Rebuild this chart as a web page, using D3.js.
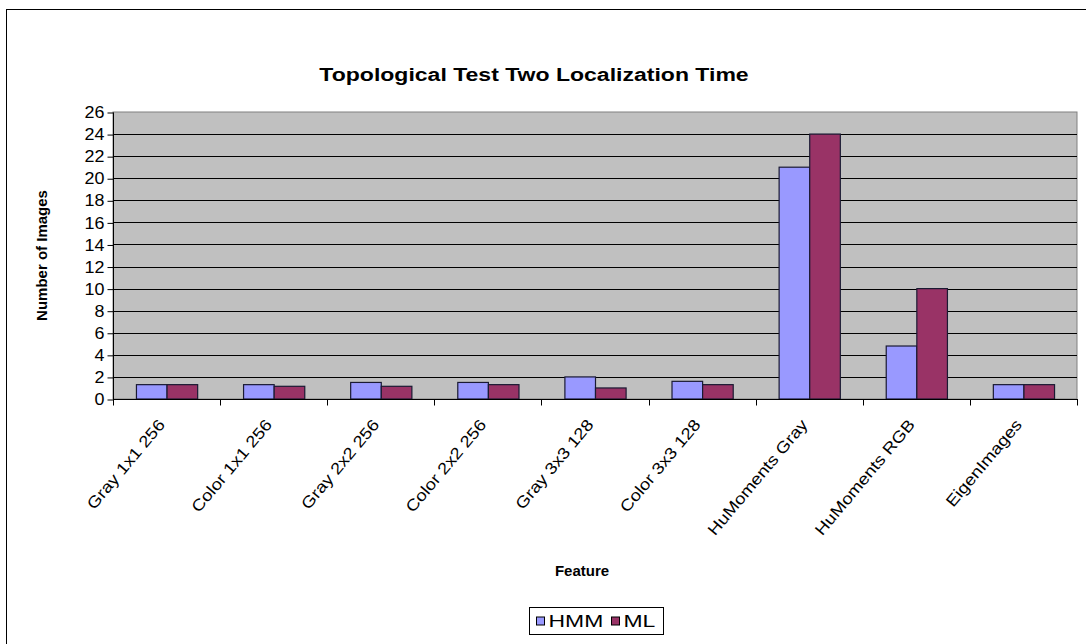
<!DOCTYPE html>
<html>
<head>
<meta charset="utf-8">
<script src="https://cdn.jsdelivr.net/npm/d3@7"></script>
<style>
  html, body { margin: 0; padding: 0; background: #fff; }
  svg { display: block; font-family: "Liberation Sans", Arial, sans-serif; }
</style>
</head>
<body>
<svg id="chart" width="1086" height="644"></svg>
<script>
// Features compared and the number of images each method needed
const categories = [
  "Gray 1x1 256", "Color 1x1 256", "Gray 2x2 256", "Color 2x2 256",
  "Gray 3x3 128", "Color 3x3 128", "HuMoments Gray", "HuMoments RGB", "EigenImages"
];
const seriesNames = ["HMM", "ML"];
const hmmValues = [1.3, 1.3, 1.5, 1.5, 2.0, 1.6, 21, 4.8, 1.3];
const mlValues  = [1.3, 1.15, 1.15, 1.3, 1.0, 1.3, 24, 10, 1.3];
const yTicks = [0, 2, 4, 6, 8, 10, 12, 14, 16, 18, 20, 22, 24, 26];
const colors = { HMM: "#9999ff", ML: "#993366" };

const rows = categories.map((c, i) => ({ category: c, HMM: hmmValues[i], ML: mlValues[i] }));

const svg = d3.select("#chart");
const plot = { left: 113, right: 1077, top: 112, bottom: 399 };

// Outer chart border
svg.append("rect")
  .attr("x", 6.5).attr("y", 9.5)
  .attr("width", 1200).attr("height", 800)
  .attr("fill", "#fff").attr("stroke", "#000").attr("stroke-width", 1);

const x = d3.scaleBand().domain(categories).range([plot.left, plot.right]).padding(0);
const xInner = d3.scaleBand().domain(seriesNames).range([0, x.bandwidth()])
  .paddingInner(0).paddingOuter(0.75);
const y = d3.scaleLinear().domain([0, 26]).range([plot.bottom, plot.top]);

// Plot background
svg.append("rect")
  .attr("x", plot.left).attr("y", plot.top)
  .attr("width", plot.right - plot.left).attr("height", plot.bottom - plot.top)
  .attr("fill", "#c0c0c0").attr("stroke", "#808080").attr("stroke-width", 1);

// Horizontal gridlines
svg.append("g").selectAll("line")
  .data(yTicks.filter(t => t > 0 && t < 26))
  .join("line")
  .attr("x1", plot.left).attr("x2", plot.right)
  .attr("y1", d => Math.round(y(d)) + 0.5).attr("y2", d => Math.round(y(d)) + 0.5)
  .attr("stroke", "#000").attr("stroke-width", 1);

// Bars
const groups = svg.append("g").selectAll("g")
  .data(rows).join("g")
  .attr("transform", d => `translate(${x(d.category)},0)`);
groups.selectAll("rect")
  .data(d => seriesNames.map(s => ({ s, v: d[s] })))
  .join("rect")
  .attr("x", d => xInner(d.s) + 0.5)
  .attr("y", d => y(d.v))
  .attr("width", xInner.bandwidth())
  .attr("height", d => y(0) - y(d.v))
  .attr("fill", d => colors[d.s])
  .attr("stroke", "#1a1a33").attr("stroke-width", 1.2);

// Y axis
const yAxis = svg.append("g")
  .attr("transform", `translate(${plot.left + 0.5},0.5)`)
  .call(d3.axisLeft(y).tickValues(yTicks).tickSize(6).tickPadding(0).tickFormat(d3.format("d")));
yAxis.select(".domain").attr("stroke", "#000").attr("d", `M0,${plot.top}V${plot.bottom}`);
yAxis.selectAll(".tick line").attr("stroke", "#000");
yAxis.selectAll(".tick text")
  .attr("font-family", "Liberation Sans, Arial, sans-serif")
  .attr("font-size", 16).attr("fill", "#000")
  .attr("x", 0)
  .attr("transform", "translate(-9,0) scale(1.12,1)");

// X axis: ticks on category boundaries
const xAxisG = svg.append("g").attr("transform", `translate(0,${plot.bottom + 0.5})`);
xAxisG.append("line")
  .attr("x1", plot.left).attr("x2", plot.right + 1)
  .attr("stroke", "#000");
const boundaries = categories.map(c => x(c)).concat([plot.right]);
xAxisG.selectAll("line.tk").data(boundaries).join("line")
  .attr("class", "tk")
  .attr("x1", d => Math.round(d) + 0.5).attr("x2", d => Math.round(d) + 0.5)
  .attr("y1", 0).attr("y2", 6)
  .attr("stroke", "#000");
xAxisG.selectAll("text").data(categories).join("text")
  .attr("transform", d => `translate(${x(d) + x.bandwidth() / 2 - 5},22) rotate(-50) scale(1.16,1)`)
  .attr("text-anchor", "end")
  .attr("dy", "0.35em")
  .attr("font-size", 16)
  .attr("fill", "#000")
  .text(d => d);

// Titles
svg.append("text")
  .attr("transform", "translate(534,81) scale(1.28,1)")
  .attr("text-anchor", "middle")
  .attr("font-size", 18).attr("font-weight", "bold")
  .text("Topological Test Two Localization Time");

svg.append("text")
  .attr("transform", `translate(47,${(plot.top + plot.bottom) / 2}) rotate(-90)`)
  .attr("text-anchor", "middle")
  .attr("font-size", 15).attr("font-weight", "bold")
  .text("Number of Images");

svg.append("text")
  .attr("x", 582).attr("y", 576)
  .attr("text-anchor", "middle")
  .attr("font-size", 15).attr("font-weight", "bold")
  .text("Feature");

// Legend
const legend = svg.append("g").attr("transform", "translate(529.5,607.5)");
legend.append("rect")
  .attr("width", 134).attr("height", 27)
  .attr("fill", "#fff").attr("stroke", "#000");
const legendItems = [{ s: "HMM", x: 7 }, { s: "ML", x: 82 }];
const li = legend.selectAll("g.item").data(legendItems).join("g")
  .attr("class", "item")
  .attr("transform", d => `translate(${d.x},0)`);
li.append("rect")
  .attr("x", 0).attr("y", 9.5).attr("width", 8).attr("height", 8)
  .attr("fill", d => colors[d.s]).attr("stroke", "#000");
li.append("text")
  .attr("transform", "translate(12,14) scale(1.35,1)")
  .attr("dy", "0.35em")
  .attr("font-size", 17)
  .text(d => d.s);
</script>
</body>
</html>
